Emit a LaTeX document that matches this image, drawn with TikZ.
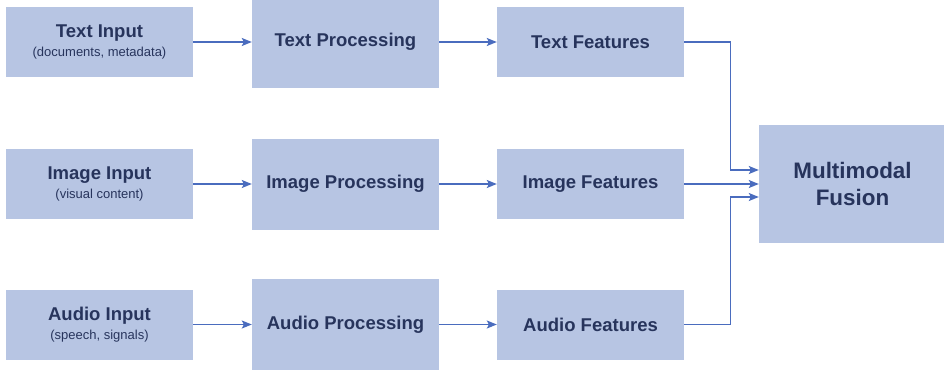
\documentclass[tikz,border=0pt]{standalone}
\usepackage{fontspec}
\setmainfont{Liberation Sans}
\usetikzlibrary{arrows.meta}
\definecolor{boxfill}{HTML}{B7C5E3}
\definecolor{boxtext}{HTML}{27345C}
\definecolor{linkblue}{HTML}{4A6CBE}

\begin{document}
\begin{tikzpicture}[x=1pt,y=-1pt,
	block/.style={rectangle,fill=boxfill,text=boxtext,inner sep=0pt,minimum width=187pt,align=center},
	smallbox/.style={block,minimum height=70pt},
	tallbox/.style={block,minimum height=91pt},
	link/.style={-{Stealth[length=10pt,width=8pt,inset=2pt]},draw=linkblue,line width=1.3pt}]
			\useasboundingbox (0,0) rectangle (944,372);
			% one row per modality: input -> processing -> features
			\foreach \y/\nm/\sub in {42/Text/{(documents, metadata)},184/Image/{(visual content)},324.5/Audio/{(speech, signals)}}{
				\node[smallbox,font=\fontsize{13}{18.5}\selectfont] (\nm-in) at (99.5,\y) {{\fontsize{18.5}{18.5}\selectfont\bfseries \nm\ Input}\\\sub};
				\node[tallbox,font=\bfseries\fontsize{18.5}{22}\selectfont] (\nm-proc) at (345.5,\y) {\nm\ Processing};
				\node[smallbox,font=\bfseries\fontsize{18.5}{22}\selectfont] (\nm-feat) at (590.5,\y) {\nm\ Features};
				\draw [link] (\nm-in) -- (\nm-proc);
				\draw [link] (\nm-proc) -- (\nm-feat);
			}
			\node[block,minimum height=118pt,font=\bfseries\fontsize{22.4}{27}\selectfont] (fusion) at (852.5,184) {Multimodal\\Fusion};
			\draw [link] (Text-feat.east) -- ++(46,0) |- ([yshift=14pt]fusion.west);
			\draw [link] (Image-feat.east) -- (Image-feat.east -| fusion.west);
			\draw [link] (Audio-feat.east) -- ++(46,0) |- ([yshift=-13pt]fusion.west);
\end{tikzpicture}
\end{document}
